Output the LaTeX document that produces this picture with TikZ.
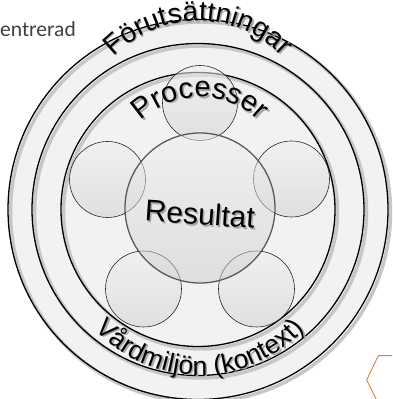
\documentclass[tikz,border=0pt]{standalone}
\usepackage{fontspec}
\setmainfont{Liberation Sans}
\newfontfamily\calib{Carlito}
\usetikzlibrary{decorations.text}
\definecolor{bandgray}{HTML}{F2F2F2}
\definecolor{orng}{HTML}{ED7D31}
\definecolor{gtxt}{HTML}{404040}
\begin{document}
\begin{tikzpicture}[x=1pt,y=1pt,
  ringline/.style={draw=black, line width=1.3pt},
  ringshadow/.style={draw=black!22, line width=3.5pt},
  smallc/.style={draw=black!85, line width=0.6pt, top color=black!6, bottom color=black!18, fill opacity=0.55},
  centc/.style={draw=black!65, line width=1.3pt, top color=black!6, bottom color=black!20, fill opacity=0.5},
  hexline/.style={draw=orng, line width=0.9pt}]
\clip (0,0) rectangle (392,399);
% big rings
\fill[bandgray] (198,189.5) circle[radius=190pt];
\foreach \r in {190,166,137}{
  \draw[ringshadow] (200.5,187) circle[radius=\r pt];
}
\draw[ringline] (198,189.5) circle[radius=190pt];
\draw[ringline] (198,189.5) circle[radius=166pt];
\draw[ringline] (198,189.5) circle[radius=137pt];
% small circles
\path[smallc] (200,296) circle[radius=37.5pt];
\path[smallc] (107.5,219.5) circle[radius=38pt];
\path[smallc] (291.5,220) circle[radius=38pt];
\path[smallc] (143.5,110) circle[radius=38pt];
\path[smallc] (256.5,110) circle[radius=38pt];
% central circle
\path[centc] (200,191) circle[radius=75pt];
% texts: shadows
\path[decorate, decoration={text along path, text align=center,
  text={|\fontsize{28}{30}\selectfont\color{black!35}|Förutsättningar}}]
  ([shift={(150:118pt)}]199.5,258.5) arc[start angle=150, end angle=30, radius=118pt];
\path[decorate, decoration={text along path, text align=center,
  text={|\fontsize{29}{30}\selectfont\color{black!35}|Processer}}]
  ([shift={(150:84.5pt)}]201.5,216) arc[start angle=150, end angle=30, radius=84.5pt];
\path[decorate, decoration={text along path, text align=center,
  text={|\fontsize{26.5}{28}\selectfont\color{black!35}|Vårdmiljön (kontext)}}]
  ([shift={(215:142.5pt)}]201.5,165) arc[start angle=215, end angle=325, radius=142.5pt];
\node[rotate=-4, font=\fontsize{30}{32}\selectfont, text=black!35, inner sep=0pt] (resshadow) at (201.5,183.5) {Resultat};
% texts
\path[decorate, decoration={text along path, text align=center,
  text={|\fontsize{28}{30}\selectfont|Förutsättningar}}]
  ([shift={(150:118pt)}]198,260) arc[start angle=150, end angle=30, radius=118pt];
\path[decorate, decoration={text along path, text align=center,
  text={|\fontsize{29}{30}\selectfont|Processer}}]
  ([shift={(150:84.5pt)}]200,217.5) arc[start angle=150, end angle=30, radius=84.5pt];
\path[decorate, decoration={text along path, text align=center,
  text={|\fontsize{26.5}{28}\selectfont|Vårdmiljön (kontext)}}]
  ([shift={(215:142.5pt)}]200,166.5) arc[start angle=215, end angle=325, radius=142.5pt];
\node[rotate=-4, font=\fontsize{30}{32}\selectfont, inner sep=0pt] (res) at (200,185) {Resultat};
% side text
\node[anchor=base west, inner sep=0pt, font=\calib\fontsize{21.5}{24}\selectfont, text=gtxt] (centr) at (0,362) {entrerad};
% orange hexagon fragment
\coordinate (h1) at (400,43.3);
\coordinate (h2) at (378.3,43.3);
\coordinate (h3) at (366.7,19);
\coordinate (h4) at (377,-2);
\draw[hexline] (h1) -- (h2) -- (h3) -- (h4);
\end{tikzpicture}
\end{document}
